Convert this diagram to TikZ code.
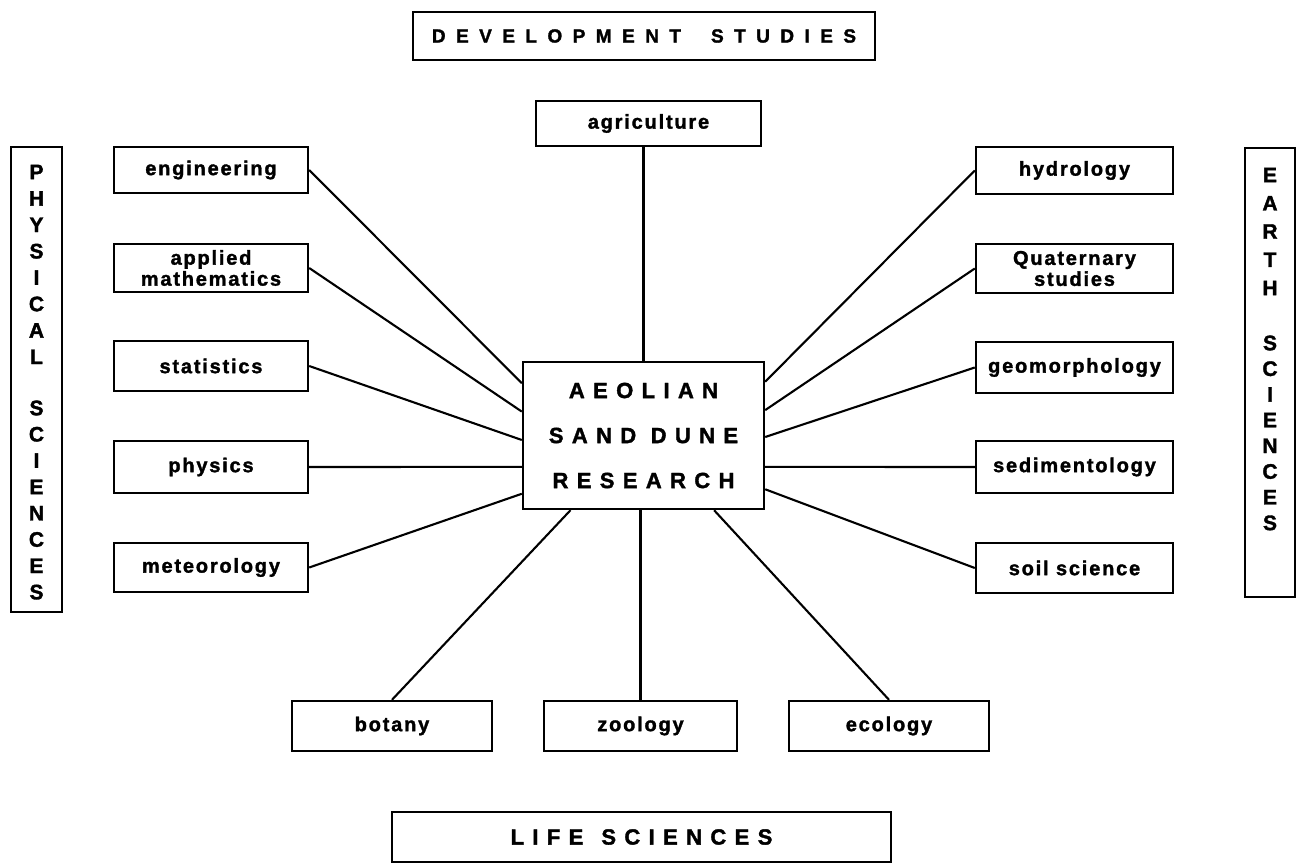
\documentclass[tikz,border=0pt]{standalone}
\usepackage{fontspec}
\setmainfont{Liberation Sans}[BoldFeatures={FakeBold=1.6}]
\usetikzlibrary{calc}
\begin{document}
\begin{tikzpicture}[x=1pt,y=-1pt,
  box/.style={draw, line width=2.4pt, inner sep=0pt, align=center},
  lab/.style={font=\fontsize{20}{21}\selectfont\bfseries\addfontfeature{LetterSpace=9}},
  ctext/.style={font=\fontsize{22}{45}\selectfont\bfseries\addfontfeature{LetterSpace=38}},
  vlet/.style={inner sep=0pt, font=\fontsize{21}{26}\selectfont\bfseries},
  conn/.style={line width=2.1pt}]
\useasboundingbox (0,0) rectangle (1301,864);

% headings
\node[box, minimum width=462pt, minimum height=48pt,
      font=\fontsize{19}{22}\selectfont\bfseries\addfontfeature{LetterSpace=55}]
      (dev) at (644,36) {DEVELOPMENT\hspace{30pt}STUDIES};
\node[box, minimum width=499pt, minimum height=50pt,
      font=\fontsize{22}{24}\selectfont\bfseries\addfontfeature{LetterSpace=38}]
      (life) at (641.5,837) {LIFE\hspace{18pt}SCIENCES};
\node[box, minimum width=51pt, minimum height=465pt] (phys) at (36.5,379.5) {};
\node[box, minimum width=50pt, minimum height=449pt] (earth) at (1270,372.5) {};
\foreach \l [count=\i] in {P,H,Y,S,I,C,A,L}
  \node[vlet] (pa\i) at (36.5,{172+26.4*(\i-1)}) {\l};
\foreach \l [count=\i] in {S,C,I,E,N,C,E,S}
  \node[vlet] (pb\i) at (36.5,{408+26.3*(\i-1)}) {\l};
\foreach \l [count=\i] in {E,A,R,T,H}
  \node[vlet] (ea\i) at (1270,{175+28.25*(\i-1)}) {\l};
\foreach \l [count=\i] in {S,C,I,E,N,C,E,S}
  \node[vlet] (eb\i) at (1270,{343+25.7*(\i-1)}) {\l};

% centre
\node[box, ctext, minimum width=241pt, minimum height=147pt] (c) at (643.5,435.5)
  {AEOLIAN\\SAND DUNE\\RESEARCH};

% top
\node[box, lab, minimum width=225pt, minimum height=45pt] (agri) at (648.5,123.5) {agriculture};

% left
\node[box, lab, minimum width=194pt, minimum height=46pt] (eng) at (211,170) {engineering};
\node[box, lab, minimum width=194pt, minimum height=48pt] (math) at (211,268) {applied\\mathematics};
\node[box, lab, minimum width=194pt, minimum height=50pt] (stat) at (211,366) {statistics};
\node[box, lab, minimum width=194pt, minimum height=52pt] (phy) at (211,467) {physics};
\node[box, lab, minimum width=194pt, minimum height=49pt] (met) at (211,567.5) {meteorology};

% right
\node[box, lab, minimum width=197pt, minimum height=47pt] (hyd) at (1074.5,170.5) {hydrology};
\node[box, lab, minimum width=197pt, minimum height=49pt] (quat) at (1074.5,268.5) {Quaternary\\studies};
\node[box, lab, minimum width=197pt, minimum height=51pt] (geo) at (1074.5,367.5) {geomorphology};
\node[box, lab, minimum width=197pt, minimum height=52pt] (sed) at (1074.5,467) {sedimentology};
\node[box, lab, minimum width=197pt, minimum height=50pt] (soil) at (1074.5,568) {soil science};

% bottom
\node[box, lab, minimum width=200pt, minimum height=50pt] (bot) at (392,726) {botany};
\node[box, lab, minimum width=193pt, minimum height=50pt] (zoo) at (640.5,726) {zoology};
\node[box, lab, minimum width=200pt, minimum height=50pt] (eco) at (889,726) {ecology};

% connectors
\draw[conn] (c.north) -- (c.north |- agri.south);
\draw[conn] (eng.east)  -- ($(c.north west)!0.15!(c.south west)$);
\draw[conn] (math.east) -- ($(c.north west)!0.34!(c.south west)$);
\draw[conn] (stat.east) -- ($(c.north west)!0.53!(c.south west)$);
\draw[conn] (phy.east)  -- ($(c.north west)!0.71!(c.south west)$);
\draw[conn] (met.east)  -- ($(c.north west)!0.89!(c.south west)$);
\draw[conn] (hyd.west)  -- ($(c.north east)!0.14!(c.south east)$);
\draw[conn] (quat.west) -- ($(c.north east)!0.33!(c.south east)$);
\draw[conn] (geo.west)  -- ($(c.north east)!0.51!(c.south east)$);
\draw[conn] (sed.west)  -- ($(c.north east)!0.71!(c.south east)$);
\draw[conn] (soil.west) -- ($(c.north east)!0.86!(c.south east)$);
\draw[conn] (bot.north) -- ($(c.south west)!0.2!(c.south east)$);
\draw[conn] (zoo.north) -- (zoo.north |- c.south);
\draw[conn] (eco.north) -- ($(c.south west)!0.79!(c.south east)$);
\end{tikzpicture}
\end{document}
